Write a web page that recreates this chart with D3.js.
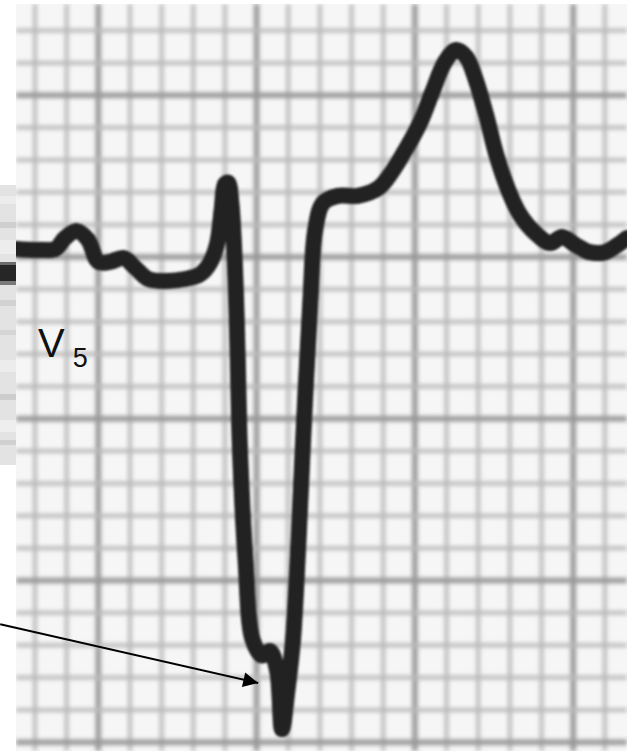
<!DOCTYPE html>
<html>
<head>
<meta charset="utf-8">
<script src="https://cdn.jsdelivr.net/npm/d3@7/dist/d3.min.js"></script>
<style>
  html, body { margin: 0; padding: 0; background: #ffffff; }
  svg { display: block; }
</style>
</head>
<body>
<script>
// Lead V5 trace: time in ms, amplitude in mV (25 mm/s, 10 mm/mV paper)
const timeMs = [
  -104, -73, -54, -42, -27, -13, 0, 15, 32, 47, 63, 85, 110, 129, 141,
  150, 156, 160, 164, 168, 171, 174, 176, 179, 186, 195, 207, 217, 226,
  232, 239, 246, 253, 260, 268, 274, 284, 303, 328, 354, 371, 388, 407,
  422, 438, 452, 465, 477, 490, 503, 518, 533, 552, 571, 586, 603, 621,
  640, 656, 668
];
const voltsMv = [
  0.025, 0.022, 0.025, 0.059, 0.080, 0.053, -0.015, -0.015, -0.003, -0.034,
  -0.068, -0.074, -0.068, -0.053, -0.019,
  0.040, 0.150, 0.225, 0.230, 0.170, 0.060, -0.120, -0.300, -0.597, -0.937,
  -1.184, -1.232, -1.218, -1.280,
  -1.460, -1.339, -1.184, -0.875, -0.504, -0.133, 0.083, 0.167, 0.189,
  0.189, 0.213, 0.263, 0.331, 0.417,
  0.510, 0.603, 0.640, 0.618, 0.547, 0.439, 0.315, 0.207, 0.130, 0.074,
  0.043, 0.062, 0.037, 0.015,
  0.015, 0.037, 0.059
];

// Paper grid: small box = 40 ms x 0.1 mV, bold every 5 boxes
const gridStepMs = 40;
const gridStepTenthMv = 1;
const majorEvery = 5;

// Lead name
const leadName = "V";
const leadIndex = "5";

// Arrow annotation: tail and head in (ms, mV)
const arrowTail = [-124, -1.135];
const arrowHead = [202, -1.317];

const W = 627, H = 751;
const paper = { left: 16, top: 4, right: 627, bottom: 751 };

const x = d3.scaleLinear().domain([-104, 668]).range([paper.left, paper.right]);
const y = d3.scaleLinear().domain([0.782, -1.527]).range([paper.top, paper.bottom]);

const svg = d3.select("body").append("svg")
  .attr("width", W).attr("height", H)
  .attr("viewBox", `0 0 ${W} ${H}`);

const defs = svg.append("defs");
defs.append("filter").attr("id", "soft")
  .attr("filterUnits", "userSpaceOnUse")
  .attr("x", 0).attr("y", 0).attr("width", W).attr("height", H)
  .append("feGaussianBlur").attr("stdDeviation", 2.2);
defs.append("filter").attr("id", "softTrace")
  .attr("filterUnits", "userSpaceOnUse")
  .attr("x", 0).attr("y", 0).attr("width", W).attr("height", H)
  .append("feGaussianBlur").attr("stdDeviation", 0.8);
defs.append("clipPath").attr("id", "paperClip")
  .append("rect")
  .attr("x", paper.left).attr("y", paper.top)
  .attr("width", paper.right - paper.left).attr("height", paper.bottom - paper.top);
defs.append("marker").attr("id", "arrowHead")
  .attr("viewBox", "0 0 10 10").attr("refX", 10).attr("refY", 5)
  .attr("markerWidth", 9).attr("markerHeight", 7.5)
  .attr("markerUnits", "strokeWidth")
  .attr("orient", "auto")
  .append("path").attr("d", "M0,0 L10,5 L0,10 Z").attr("fill", "#000");

// Strip of a neighbouring lead peeking out at the left edge
const strip = svg.append("g");
strip.append("rect").attr("x", 0).attr("y", 185).attr("width", paper.left).attr("height", 280)
  .attr("fill", "#e3e3e3");
[[196, 8, "#ececec"], [222, 6, "#cfcfcf"], [240, 14, "#ededed"], [262, 4, "#6a6a6a"],
 [265, 16, "#262626"], [281, 4, "#7a7a7a"], [300, 6, "#d2d2d2"], [330, 5, "#d5d5d5"],
 [360, 12, "#ececec"], [394, 6, "#cdcdcd"], [420, 12, "#eeeeee"], [440, 5, "#d0d0d0"]]
  .forEach(([yy, hh, c]) => strip.append("rect").attr("x", 0).attr("y", yy)
    .attr("width", paper.left).attr("height", hh).attr("fill", c));

// Paper
svg.append("rect")
  .attr("x", paper.left).attr("y", paper.top)
  .attr("width", paper.right - paper.left).attr("height", paper.bottom - paper.top)
  .attr("fill", "#f6f6f6");

const grid = svg.append("g").attr("clip-path", "url(#paperClip)")
  .append("g").attr("filter", "url(#soft)");

const tStart = Math.ceil(x.domain()[0] / gridStepMs) * gridStepMs;
const vTicks = d3.range(Math.ceil(y.domain()[1] * 10), Math.floor(y.domain()[0] * 10) + 1, gridStepTenthMv);
const tTicks = d3.range(tStart, x.domain()[1] + 1, gridStepMs);

grid.selectAll("line.v").data(tTicks).join("line")
  .attr("x1", d => x(d)).attr("x2", d => x(d))
  .attr("y1", paper.top).attr("y2", paper.bottom)
  .attr("stroke", d => (d / gridStepMs) % majorEvery === 0 ? "#999999" : "#bababa")
  .attr("stroke-width", d => (d / gridStepMs) % majorEvery === 0 ? 5.5 : 4);

grid.selectAll("line.h").data(vTicks).join("line")
  .attr("y1", d => y(d / 10)).attr("y2", d => y(d / 10))
  .attr("x1", paper.left).attr("x2", paper.right)
  .attr("stroke", d => d % majorEvery === 0 ? "#999999" : "#bababa")
  .attr("stroke-width", d => d % majorEvery === 0 ? 5.5 : 4);

// ECG trace
const trace = d3.line()
  .x((d, i) => x(timeMs[i]))
  .y(d => y(d))
  .curve(d3.curveCatmullRom.alpha(0.5));

svg.append("g").attr("clip-path", "url(#paperClip)")
  .append("path")
  .datum(voltsMv)
  .attr("d", trace)
  .attr("fill", "none")
  .attr("stroke", "#222222")
  .attr("stroke-width", 16)
  .attr("stroke-linejoin", "round")
  .attr("stroke-linecap", "round")
  .attr("filter", "url(#softTrace)");

// Lead label
const label = svg.append("text")
  .attr("x", 38).attr("y", 357)
  .attr("font-family", "'Liberation Sans', Arial, sans-serif")
  .attr("font-size", 40)
  .attr("fill", "#111");
label.append("tspan").text(leadName);
label.append("tspan").attr("dx", 8).attr("dy", 10).attr("font-size", 27).text(leadIndex);

// Arrow
svg.append("line")
  .attr("x1", x(arrowTail[0])).attr("y1", y(arrowTail[1]))
  .attr("x2", x(arrowHead[0])).attr("y2", y(arrowHead[1]))
  .attr("stroke", "#000").attr("stroke-width", 2)
  .attr("marker-end", "url(#arrowHead)");
</script>
</body>
</html>
